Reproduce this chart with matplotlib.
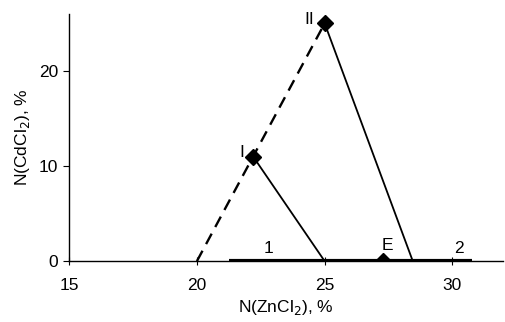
import matplotlib
matplotlib.use("Agg")
import matplotlib.pyplot as plt

plt.rcParams['font.family'] = ['Liberation Sans', 'DejaVu Sans']

# data
dashed_x = [20.0, 22.2, 25.0]
dashed_y = [0.0, 11.0, 25.0]
tie1_x = [22.2, 25.0]
tie1_y = [11.0, 0.0]
tie2_x = [25.0, 28.45]
tie2_y = [25.0, 0.0]
base_x = [21.25, 30.75]
base_y = [0.0, 0.0]
points_x = [22.2, 25.0, 27.3]
points_y = [11.0, 25.0, 0.0]
xticks = [15, 20, 25, 30]
yticks = [0, 10, 20]

FS = 12.5
fig = plt.figure(figsize=(5.05, 3.22), dpi=100)
ax = fig.add_axes([0.137, 0.189, 0.86, 0.768])

ax.plot(dashed_x, dashed_y, color='black', lw=1.7, ls=(0, (5, 3.2)))
ax.plot(tie1_x, tie1_y, color='black', lw=1.3)
ax.plot(tie2_x, tie2_y, color='black', lw=1.3)
ax.plot(base_x, base_y, color='black', lw=3.0, solid_capstyle='butt')
ax.plot(points_x, points_y, ls='none', marker='D', ms=8, color='black')

ax.text(21.85, 11.4, 'I', fontsize=FS, ha='right', va='center')
ax.text(24.6, 25.4, 'II', fontsize=FS, ha='right', va='center')
ax.text(27.45, 0.9, 'E', fontsize=FS, ha='center', va='bottom')
ax.text(22.8, 0.5, '1', fontsize=FS, ha='center', va='bottom')
ax.text(30.25, 0.5, '2', fontsize=FS, ha='center', va='bottom')

ax.set_xlim(15, 32)
ax.set_ylim(0, 26)
ax.set_xticks(xticks)
ax.set_yticks(yticks)
ax.spines['top'].set_visible(False)
ax.spines['right'].set_visible(False)
ax.spines['left'].set_linewidth(1.0)
ax.spines['bottom'].set_linewidth(1.0)
ax.tick_params(axis='x', direction='inout', length=6, labelsize=FS, pad=9)
ax.tick_params(axis='y', direction='out', length=4, labelsize=FS, pad=4)
ax.set_xlabel('N(ZnCl$_2$), %', fontsize=FS, labelpad=4)
ax.set_ylabel('N(CdCl$_2$), %', fontsize=FS, labelpad=5)

fig.savefig('out.png', dpi=100)
